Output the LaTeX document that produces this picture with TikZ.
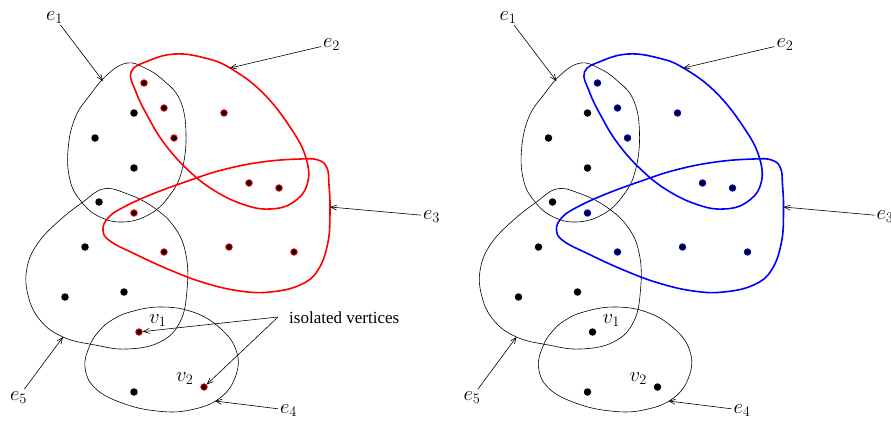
\documentclass[tikz,border=0pt]{standalone}
\usepackage{fontspec}
\newfontfamily\txtfont{Liberation Serif}
\usetikzlibrary{arrows.meta}
\tikzset{
  hedge/.style={line width=0.6pt, draw=black},
  hcol/.style={line width=1.6pt, draw=#1},
  vtx/.style={circle, fill=black, inner sep=0pt, minimum size=7.5pt},
  ring/.style={circle, fill=black, inner sep=0pt, minimum size=6.5pt, draw=#1, line width=0.9pt},
  lab/.style={inner sep=0pt, outer sep=2pt, anchor=base west, font=\fontsize{21}{25}\selectfont},
  pointer/.style={line width=0.6pt, -{Straight Barb[length=6pt,width=5pt]}},
}
% #1 prefix, #2 colour of e2/e3, #3 style of isolated vertices
\newcommand\hypfig[3]{%
  % e1
  \draw[hedge] plot[smooth cycle, tension=0.7] coordinates {(127,63) (145,68) (163,80) (180,100) (186,133) (182,170) (170,195) (150,214) (123,222) (98,216) (80,200) (70,180) (68,150) (75,118) (90,95) (108,74)};
  % e5
  \draw[hedge] plot[smooth cycle, tension=0.7] coordinates {(103,189) (125,193) (153,207) (175,228) (186,255) (187,290) (180,322) (160,342) (127,349) (95,345) (63,337) (40,320) (28,295) (27,268) (38,243) (60,220) (83,202)};
  % e4
  \draw[hedge] plot[smooth cycle, tension=0.7] coordinates {(112,320) (130,312) (160,307) (193,312) (220,328) (236,350) (236,375) (220,398) (190,410) (157,411) (122,403) (95,388) (85,367) (90,345) (100,330)};
  % e2
  \draw[hcol=#2] plot[smooth cycle, tension=0.7] coordinates {(131,72) (148,61) (175,54) (205,58) (230,68) (262,92) (290,127) (306,158) (307,185) (292,203) (270,209) (245,205) (215,191) (188,170) (164,143) (147,115) (136,92)};
  % e3
  \draw[hcol=#2] plot[smooth cycle, tension=0.7] coordinates {(103,230) (108,218) (122,208) (150,195) (185,182) (222,170) (262,162) (300,159) (318,160) (327,168) (329,185) (330,210) (328,242) (318,270) (300,285) (270,292) (240,291) (205,283) (170,270) (135,254) (110,241)};
  % arrow tips on the edges
  \coordinate (#1t1) at (103,81);
  \coordinate (#1t2) at (230,68);
  \coordinate (#1t3) at (330,207);
  \coordinate (#1t4) at (215,401);
  \coordinate (#1t5) at (63,337);
  % vertices
  \node[ring=#2] (#1a1) at (144,83) {};
  \node[ring=#2] (#1a2) at (164,108) {};
  \node[ring=#2] (#1a3) at (174,138) {};
  \node[ring=#2] (#1a4) at (224,113) {};
  \node[ring=#2] (#1a5) at (249,183) {};
  \node[ring=#2] (#1a6) at (279,188) {};
  \node[ring=#2] (#1b1) at (134,213) {};
  \node[ring=#2] (#1b2) at (164,252) {};
  \node[ring=#2] (#1b3) at (229,247) {};
  \node[ring=#2] (#1b4) at (294,252) {};
  \node[vtx] (#1c1) at (134,113) {};
  \node[vtx] (#1c2) at (95,138) {};
  \node[vtx] (#1c3) at (134,168) {};
  \node[vtx] (#1c4) at (99,202) {};
  \node[vtx] (#1c5) at (85,247) {};
  \node[vtx] (#1c6) at (65,297) {};
  \node[vtx] (#1c7) at (124,292) {};
  \node[vtx] (#1c8) at (134,392) {};
  \node[#3] (#1v1) at (139,332) {};
  \node[#3] (#1v2) at (204,387) {};
  % labels
  \node[lab] (#1l1) at (44,20) {$e_1$};
  \node[lab] (#1l2) at (321,47) {$e_2$};
  \node[lab] (#1l3) at (421,219) {$e_3$};
  \node[lab] (#1l4) at (278,413) {$e_4$};
  \node[lab] (#1l5) at (8,400) {$e_5$};
  \node[lab] (#1lv1) at (147,323) {$v_1$};
  \node[lab] (#1lv2) at (174,381) {$v_2$};
  \draw[pointer] (#1l1) -- (#1t1);
  \draw[pointer] (#1l2) -- (#1t2);
  \draw[pointer] (#1l3) -- (#1t3);
  \draw[pointer] (#1l4) -- (#1t4);
  \draw[pointer] (#1l5) -- (#1t5);
}
\begin{document}
\begin{tikzpicture}[x=1pt,y=-1pt]
  \useasboundingbox (0,0) rectangle (891,421);
  \clip (0,0) rectangle (891,421);
  \begin{scope}
    \hypfig{L}{red}{ring=red}
    \node[inner sep=0pt, anchor=base west, font=\txtfont\fontsize{17}{20}\selectfont] (iso) at (289,323) {isolated vertices};
    \coordinate (isoL) at (278,317);
    \draw[pointer] (isoL) -- (Lv1);
    \draw[pointer] (isoL) -- (Lv2);
  \end{scope}
  \begin{scope}[xshift=453.5pt]
    \hypfig{R}{blue}{vtx}
  \end{scope}
\end{tikzpicture}
\end{document}
